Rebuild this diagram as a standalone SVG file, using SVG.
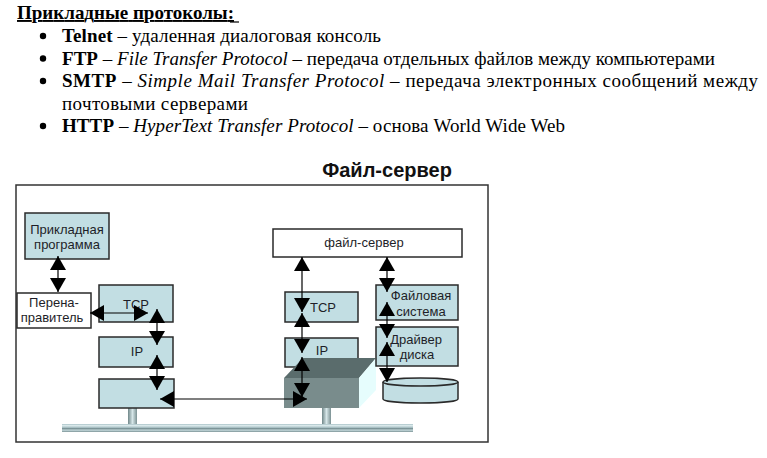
<svg xmlns="http://www.w3.org/2000/svg" width="767" height="458" viewBox="0 0 767 458">
<style>
.serif{font-family:"Liberation Serif","Times New Roman",serif;font-size:19px;fill:#000}
.b{font-weight:bold}
.i{font-style:italic}
.box{fill:#C2DEE3;stroke:#2a2a2a;stroke-width:1.5}
.wbox{fill:#fff;stroke:#2a2a2a;stroke-width:1.5}
.lbl{font-family:"Liberation Sans",Arial,sans-serif;font-size:13px;fill:#1e1e28;text-anchor:middle}
.con line{stroke:#000;stroke-width:1.2;marker-start:url(#ah);marker-end:url(#ah)}
</style>
<defs>
<marker id="ah" viewBox="0 0 14 16" refX="14" refY="8" markerWidth="14" markerHeight="16" markerUnits="userSpaceOnUse" orient="auto-start-reverse">
<path d="M0,0L14,8L0,16z" fill="#000"/>
</marker>
<linearGradient id="bus" x1="0" y1="0" x2="0" y2="1">
<stop offset="0" stop-color="#A9C2C6"/>
<stop offset="0.2" stop-color="#DCEBED"/>
<stop offset="0.45" stop-color="#A6BEC2"/>
<stop offset="0.6" stop-color="#6F878A"/>
<stop offset="0.75" stop-color="#C9DDE0"/>
<stop offset="1" stop-color="#7C9396"/>
</linearGradient>
<linearGradient id="stem" x1="0" y1="0" x2="1" y2="0">
<stop offset="0" stop-color="#6F8688"/>
<stop offset="0.5" stop-color="#D6E6E8"/>
<stop offset="1" stop-color="#7A9092"/>
</linearGradient>
</defs>
<rect width="767" height="458" fill="#fff"/>

<g id="heading">
<text class="serif b" x="17" y="19" font-size="18" text-decoration="underline" textLength="217">Прикладные протоколы:</text>
<line x1="230" y1="22" x2="239" y2="22" stroke="#000" stroke-width="1.2"/>
</g>
<g id="list">
<circle cx="43" cy="36" r="3.2"/>
<circle cx="43" cy="58.5" r="3.2"/>
<circle cx="43" cy="81" r="3.2"/>
<circle cx="43" cy="126" r="3.2"/>
<text class="serif" x="62" y="42" textLength="319"><tspan class="b">Telnet</tspan> – удаленная диалоговая консоль</text>
<text class="serif" x="62" y="64.5" textLength="653"><tspan class="b">FTP</tspan> – <tspan class="i">File Transfer Protocol</tspan> – передача отдельных файлов между компьютерами</text>
<text class="serif" x="62" y="87" textLength="696"><tspan class="b">SMTP</tspan> – <tspan class="i">Simple Mail Transfer Protocol</tspan> – передача электронных сообщений между</text>
<text class="serif" x="62" y="109.5" textLength="186">почтовыми серверами</text>
<text class="serif" x="62" y="132" textLength="503"><tspan class="b">HTTP</tspan> – <tspan class="i">HyperText Transfer Protocol</tspan> – основа World Wide Web</text>
</g>

<g id="title">
<text x="387" y="177" text-anchor="middle" font-family="Liberation Sans,Arial,sans-serif" font-size="20" font-weight="bold" fill="#111">Файл-сервер</text>
</g>

<g id="frame">
<rect x="16" y="185" width="472" height="257" fill="#fff" stroke="#333" stroke-width="1.5"/>
</g>

<g id="network">
<rect x="128" y="406" width="9" height="19" fill="url(#stem)"/>
<rect x="322" y="406" width="9" height="19" fill="url(#stem)"/>
<rect x="62" y="424" width="351" height="8" fill="url(#bus)"/>
</g>

<g id="app">
<rect class="box" x="25" y="213" width="84" height="46"/>
<text class="lbl" x="67" y="234">Прикладная</text>
<text class="lbl" x="67" y="249">программа</text>
</g>
<g id="redirector">
<rect class="wbox" x="17" y="293" width="74" height="35"/>
<text class="lbl" x="54" y="307">Перена-</text>
<text class="lbl" x="52" y="322">правитель</text>
</g>
<g id="tcp-client">
<rect class="box" x="99" y="285" width="74" height="37"/>
<text class="lbl" x="136" y="309">TCP</text>
</g>
<g id="ip-client">
<rect class="box" x="99" y="337" width="74" height="30"/>
<text class="lbl" x="137" y="356">IP</text>
</g>
<g id="nic-client">
<rect class="box" x="99" y="379" width="75" height="29"/>
</g>

<g id="fileserver">
<rect class="wbox" x="273" y="229" width="189" height="28"/>
<text class="lbl" x="364" y="247">файл-сервер</text>
</g>
<g id="tcp-server">
<rect class="box" x="285" y="292" width="73" height="30"/>
<text class="lbl" x="323" y="312">TCP</text>
</g>
<g id="ip-server">
<rect class="box" x="285" y="338" width="73" height="29"/>
<text class="lbl" x="322" y="355">IP</text>
</g>
<g id="nic-server">
<polygon points="284,378 303,358 376,358 359,378" fill="#5A6C6C"/>
<polygon points="359,378 376,358 376,390 359,408" fill="#E6FDFD"/>
<rect x="284" y="378" width="75" height="30" fill="#798C8C"/>
</g>
<g id="filesystem">
<rect class="box" x="376" y="285" width="82" height="35"/>
<text class="lbl" x="421" y="300" font-size="12.5">Файловая</text>
<text class="lbl" x="421" y="315.5" font-size="12.5">система</text>
</g>
<g id="diskdriver">
<rect class="box" x="376" y="327" width="82" height="39"/>
<text class="lbl" x="416" y="344">Драйвер</text>
<text class="lbl" x="417" y="359">диска</text>
</g>
<g id="disk">
<path d="M383,382 L383,399 A37.5,4 0 0 0 458,399 L458,382" fill="#C2DEE3" stroke="#2a2a2a" stroke-width="1.5"/>
<ellipse cx="420.5" cy="382" rx="37.5" ry="4" fill="#C2DEE3" stroke="#2a2a2a" stroke-width="1.5"/>
</g>

<g id="connectors" class="con">
<line x1="58" y1="256" x2="58" y2="292"/>
<line x1="90" y1="313" x2="148" y2="313"/>
<line x1="157" y1="309" x2="157" y2="345"/>
<line x1="157" y1="355" x2="157" y2="390"/>
<line x1="160" y1="399" x2="307" y2="399"/>
<line x1="302" y1="257" x2="302" y2="312"/>
<line x1="302" y1="313" x2="302" y2="353"/>
<line x1="302" y1="357" x2="302" y2="397"/>
<line x1="387" y1="257" x2="387" y2="292"/>
<line x1="387" y1="302" x2="387" y2="338"/>
<line x1="387" y1="342" x2="387" y2="382"/>
</g>
</svg>
